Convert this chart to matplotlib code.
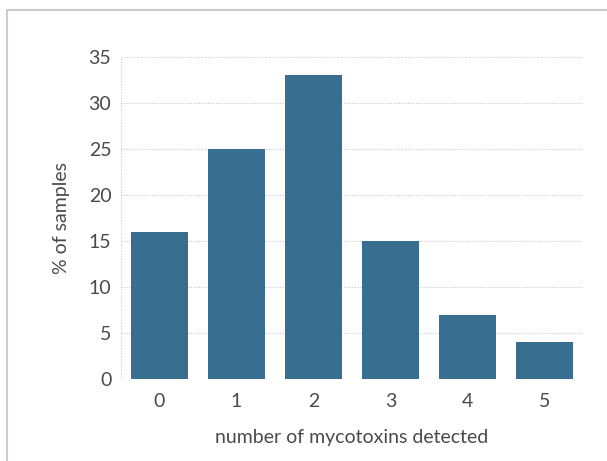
import matplotlib
matplotlib.use("Agg")
import matplotlib.pyplot as plt
from matplotlib.lines import Line2D

# data
counts = ['0', '1', '2', '3', '4', '5']
pct_samples = [16, 25, 33, 15, 7, 4]
yticks = [0, 5, 10, 15, 20, 25, 30, 35]

plt.rcParams['font.family'] = ['Lato', 'DejaVu Sans']
text_col = '#4a4a4a'

fig = plt.figure(figsize=(6.07, 4.61), dpi=100)
ax = fig.add_axes([121 / 607, 1 - 379 / 461, 462 / 607, 322 / 461])

ax.bar(range(len(counts)), pct_samples, width=0.73, color='#386e8f', zorder=3)

ax.set_xlim(-0.5, 5.5)
ax.set_ylim(0, 35)
ax.set_xticks(range(len(counts)))
ax.set_xticklabels(counts)
ax.set_yticks(yticks)

ax.grid(axis='y', linestyle=(0, (1, 1.5)), color='#c8c8c8', linewidth=0.8, zorder=0)
ax.axvline(-0.5, linestyle=(0, (1, 1.5)), color='#c8c8c8', linewidth=0.8, zorder=0)
for s in ax.spines.values():
    s.set_visible(False)
ax.tick_params(axis='y', length=0, labelsize=14, colors=text_col, pad=7)
ax.tick_params(axis='x', length=0, labelsize=14, colors=text_col, pad=10)

ax.set_ylabel('% of samples', fontsize=14, color=text_col, labelpad=13)
ax.set_xlabel('number of mycotoxins detected', fontsize=14, color=text_col, labelpad=14)

# outer frame (top and left edges of the card)
fig.add_artist(Line2D([7 / 607, 1], [1 - 10 / 461, 1 - 10 / 461], color='#cccccc', linewidth=1.5, transform=fig.transFigure))
fig.add_artist(Line2D([7 / 607, 7 / 607], [0, 1 - 10 / 461], color='#cccccc', linewidth=1.5, transform=fig.transFigure))

fig.savefig('out.png', dpi=100)
